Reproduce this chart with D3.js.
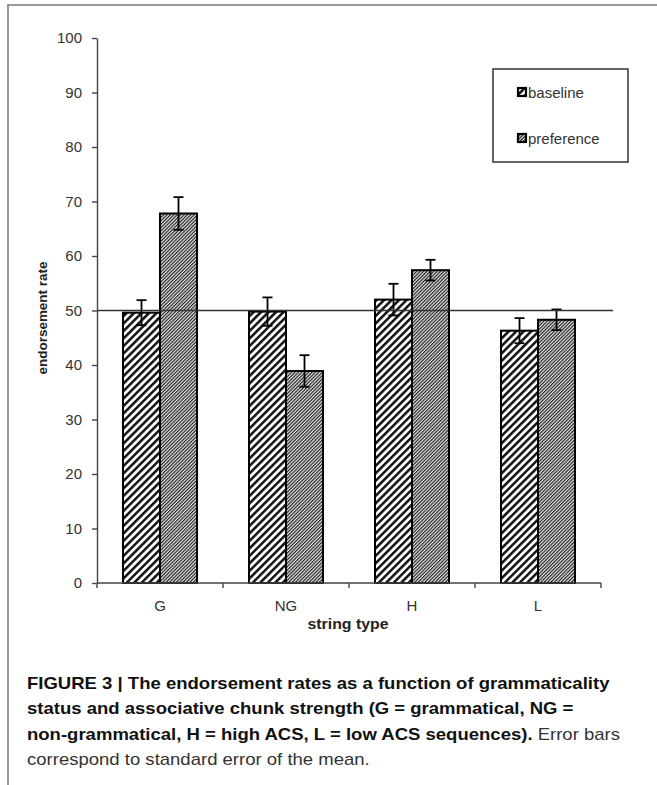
<!DOCTYPE html>
<html><head><meta charset="utf-8">
<script src="https://cdn.jsdelivr.net/npm/d3@7/dist/d3.min.js"></script>
<style>html,body{margin:0;padding:0;background:#fff;}svg{display:block;}</style>
</head><body>
<script>
const categories = ["G", "NG", "H", "L"];
const seriesNames = ["baseline", "preference"];
const baselineValues = [49.6, 49.8, 52.0, 46.3];
const baselineErrors = [2.3, 2.6, 2.9, 2.3];
const preferenceValues = [67.8, 38.9, 57.4, 48.3];
const preferenceErrors = [3.0, 2.9, 1.9, 1.9];
const yTicks = [0, 10, 20, 30, 40, 50, 60, 70, 80, 90, 100];
const referenceValue = 50;
const captionLines = [
  [["FIGURE 3 | The endorsement rates as a function of grammaticality", true]],
  [["status and associative chunk strength (G = grammatical, NG =", true]],
  [["non-grammatical, H = high ACS, L = low ACS sequences).", true], [" Error bars", false]],
  [["correspond to standard error of the mean.", false]]
];

const W = 657, H = 785;
const FONT = "Liberation Sans, Arial, sans-serif";
const svg = d3.select("body").append("svg").attr("width", W).attr("height", H);
const defs = svg.append("defs");

// patterns
const p1 = defs.append("pattern").attr("id", "pat-baseline").attr("patternUnits", "userSpaceOnUse")
  .attr("width", 5.3).attr("height", 5.3).attr("patternTransform", "rotate(45)");
p1.append("rect").attr("width", 5.3).attr("height", 5.3).attr("fill", "#fff");
p1.append("rect").attr("x", 0).attr("y", 0).attr("width", 2.5).attr("height", 5.3).attr("fill", "#111");
const p2 = defs.append("pattern").attr("id", "pat-preference").attr("patternUnits", "userSpaceOnUse")
  .attr("width", 2.4).attr("height", 2.4).attr("patternTransform", "rotate(45)");
p2.append("rect").attr("width", 2.4).attr("height", 2.4).attr("fill", "#e8e8e8");
p2.append("rect").attr("x", 0).attr("y", 0).attr("width", 1.2).attr("height", 2.4).attr("fill", "#222");
const patIds = ["pat-baseline", "pat-preference"];

// frame
svg.append("line").attr("x1", 7).attr("x2", 657).attr("y1", 5).attr("y2", 5).attr("stroke", "#777").attr("stroke-width", 1.5);
svg.append("line").attr("x1", 8).attr("x2", 8).attr("y1", 5).attr("y2", 785).attr("stroke", "#777").attr("stroke-width", 1.5);

const x0 = 97, x1 = 601, yBottom = 583, yTop = 38;
const x = d3.scaleBand().domain(categories).range([x0, x1]).paddingInner(0.4127).paddingOuter(0.2063);
const xs = d3.scaleBand().domain(seriesNames).range([0, x.bandwidth()]);
const y = d3.scaleLinear().domain([0, 100]).range([yBottom, yTop]);

const data = categories.map((c, i) => ({
  cat: c,
  vals: [
    {s: "baseline", v: baselineValues[i], e: baselineErrors[i], k: 0},
    {s: "preference", v: preferenceValues[i], e: preferenceErrors[i], k: 1}
  ]
}));

// bars
const g = svg.append("g");
const groups = g.selectAll("g.cat").data(data).join("g").attr("transform", d => `translate(${x(d.cat)},0)`);
groups.selectAll("rect").data(d => d.vals).join("rect")
  .attr("x", d => xs(d.s)).attr("width", xs.bandwidth())
  .attr("y", d => y(d.v)).attr("height", d => y(0) - y(d.v))
  .attr("fill", d => `url(#${patIds[d.k]})`).attr("stroke", "#000").attr("stroke-width", 2);

// reference line
svg.append("line").attr("x1", x0).attr("x2", 613).attr("y1", y(referenceValue)).attr("y2", y(referenceValue))
  .attr("stroke", "#333").attr("stroke-width", 1.3);

// error bars
const eb = groups.selectAll("g.err").data(d => d.vals).join("g").attr("class", "err")
  .attr("stroke", "#000").attr("stroke-width", 1.8);
eb.append("line").attr("x1", d => xs(d.s) + xs.bandwidth() / 2).attr("x2", d => xs(d.s) + xs.bandwidth() / 2)
  .attr("y1", d => y(d.v + d.e)).attr("y2", d => y(d.v - d.e));
eb.append("line").attr("x1", d => xs(d.s) + xs.bandwidth() / 2 - 5).attr("x2", d => xs(d.s) + xs.bandwidth() / 2 + 5)
  .attr("y1", d => y(d.v + d.e)).attr("y2", d => y(d.v + d.e));
eb.append("line").attr("x1", d => xs(d.s) + xs.bandwidth() / 2 - 5).attr("x2", d => xs(d.s) + xs.bandwidth() / 2 + 5)
  .attr("y1", d => y(d.v - d.e)).attr("y2", d => y(d.v - d.e));

// y axis
const yAxis = svg.append("g").attr("transform", `translate(${x0},0)`)
  .call(d3.axisLeft(y).tickValues(yTicks).tickSize(5).tickPadding(10).tickSizeOuter(0));
yAxis.attr("font-size", null).attr("font-family", null);
yAxis.selectAll("path,line").attr("stroke", "#444").attr("stroke-width", 1.4);
yAxis.selectAll("text").style("font-family", FONT).style("font-size", "15px").attr("fill", "#333");

// x axis
const xAxisG = svg.append("g").attr("transform", `translate(0,${yBottom})`);
xAxisG.append("line").attr("x1", x0).attr("x2", x1).attr("stroke", "#444").attr("stroke-width", 1.4);
const bounds = categories.map(c => x(c) - x.step() * x.paddingInner() / 2).concat([x1]);
bounds[0] = x0;
xAxisG.selectAll("line.tk").data(bounds).join("line").attr("class", "tk")
  .attr("x1", d => d).attr("x2", d => d).attr("y1", 0).attr("y2", 5).attr("stroke", "#444").attr("stroke-width", 1.4);
xAxisG.selectAll("text").data(categories).join("text")
  .attr("x", d => x(d) + x.bandwidth() / 2).attr("y", 28)
  .attr("text-anchor", "middle").style("font-family", FONT).style("font-size", "15px").attr("fill", "#333")
  .text(d => d);

// axis titles
svg.append("text").attr("transform", `translate(47,318) rotate(-90)`).attr("text-anchor", "middle")
  .style("font-family", FONT).attr("font-weight", "bold").style("font-size", "13px").attr("fill", "#222")
  .attr("textLength", 113).attr("lengthAdjust", "spacingAndGlyphs").text("endorsement rate");
svg.append("text").attr("x", 348).attr("y", 629).attr("text-anchor", "middle")
  .style("font-family", FONT).attr("font-weight", "bold").style("font-size", "14px").attr("fill", "#222")
  .attr("textLength", 81).attr("lengthAdjust", "spacingAndGlyphs").text("string type");

// legend
const lg = svg.append("g");
lg.append("rect").attr("x", 493).attr("y", 69).attr("width", 135).attr("height", 93)
  .attr("fill", "#fff").attr("stroke", "#333").attr("stroke-width", 1.5);
const li = lg.selectAll("g.li").data(seriesNames).join("g").attr("class", "li")
  .attr("transform", (d, i) => `translate(518,${93 + i * 46})`);
li.append("rect").attr("x", 0).attr("y", -5).attr("width", 8).attr("height", 8)
  .attr("fill", (d, i) => `url(#${patIds[i]})`).attr("stroke", "#000").attr("stroke-width", 2.2);
li.append("text").attr("x", 10).attr("y", 5).style("font-family", FONT)
  .style("font-size", "15px").attr("fill", "#333").text(d => d);

// caption
const cap = svg.append("g");
const capTexts = cap.selectAll("text").data(captionLines).join("text")
  .attr("x", 0).attr("y", (d, i) => 689 + i * 25.3)
  .style("font-family", FONT).style("font-size", "16px");
capTexts.selectAll("tspan").data(d => d).join("tspan")
  .attr("font-weight", d => d[1] ? "bold" : "normal")
  .attr("fill", d => d[1] ? "#111" : "#333")
  .text(d => d[0]);
const w1 = capTexts.nodes()[0].getComputedTextLength();
const k = 583 / w1;
cap.attr("transform", `translate(27,0) scale(${k},1)`);
</script>
</body></html>
